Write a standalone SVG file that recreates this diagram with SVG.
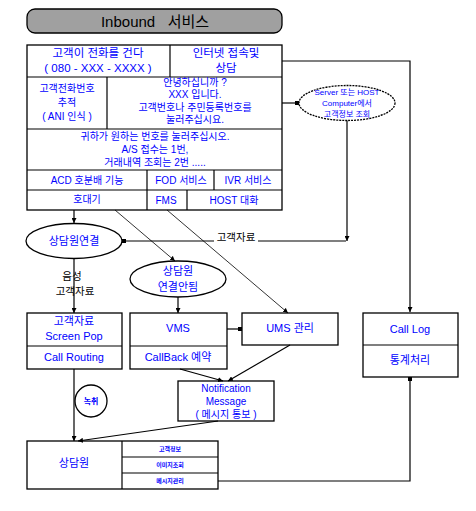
<svg xmlns="http://www.w3.org/2000/svg" width="476" height="511" viewBox="0 0 476 511">
<style>
.b{fill:#fff;stroke:#000;stroke-width:1.3}
.l{fill:none;stroke:#000;stroke-width:1.2}
.d{fill:none;stroke:#000;stroke-width:0.8}
text{font-family:"Liberation Sans","Noto Sans CJK KR",sans-serif;text-anchor:middle;dominant-baseline:central}
.t{fill:#0000ff;font-size:11px}
.m{fill:#0000ff;font-size:10px}
.s{fill:#0000ff;font-size:8px}
.k{fill:#000;font-size:10.5px}
.x{fill:#0000ff;font-size:6px;font-weight:bold}
</style>
<defs>
<marker id="a" viewBox="0 0 6 6" refX="6" refY="3" markerWidth="5" markerHeight="5" orient="auto" markerUnits="userSpaceOnUse"><path d="M0,0L6,3L0,6z" fill="#000"/></marker>
<marker id="q" viewBox="0 0 4 4" refX="4" refY="2" markerWidth="4" markerHeight="4" orient="auto" markerUnits="userSpaceOnUse"><rect width="4" height="4" fill="#000"/></marker>
</defs>
<g id="title">
<rect x="27" y="9" width="255" height="24" rx="8" fill="#a0a0a0" stroke="#000" stroke-width="1.3"/>
<text x="155" y="21" style="font-size:15px;fill:#000">Inbound&#160;&#160;&#160;서비스</text>
</g>
<g id="ivr-table">
<rect class="b" x="27" y="45" width="255" height="165"/>
<path class="l" d="M27,77H282M170,45V77M27,129H282M107,77V129M27,170H282M27,190H282M147,170V210M214,170V190M187,190V210"/>
<text class="t" x="98" y="53" style="font-size:11.5px">고객이 전화를 건다</text>
<text class="t" x="98" y="68" style="font-size:11.5px">( 080 - XXX - XXXX )</text>
<text class="t" x="226" y="53" style="font-size:11.5px">인터넷 접속및</text>
<text class="t" x="226" y="68" style="font-size:11.5px">상담</text>
<text class="m" x="67" y="88">고객전화번호</text>
<text class="m" x="67" y="102">추적</text>
<text class="m" x="67" y="116">( ANI 인식 )</text>
<text class="m" x="195" y="82">안녕하십니까 ?</text>
<text class="m" x="195" y="94.5">XXX 입니다.</text>
<text class="m" x="195" y="107">고객번호나  주민등록번호를</text>
<text class="m" x="195" y="119.5">눌러주십시요.</text>
<text class="m" x="155" y="136">귀하가 원하는 번호를 눌러주십시오.</text>
<text class="m" x="155" y="149">A/S 접수는  1번,</text>
<text class="m" x="155" y="162">거래내역 조회는 2번  .....</text>
<text class="m" x="87" y="180">ACD 호분배 기능</text>
<text class="m" x="181" y="180">FOD  서비스</text>
<text class="m" x="248" y="180">IVR  서비스</text>
<text class="m" x="87" y="199">호대기</text>
<text class="m" x="166" y="200">FMS</text>
<text class="m" x="234" y="200">HOST  대화</text>
</g>
<g id="server-lookup">
<ellipse class="b" cx="347" cy="103" rx="48" ry="17.5" style="stroke-dasharray:2 1"/>
<text class="s" x="347" y="92">Server 또는 HOST</text>
<text class="s" x="347" y="103">Computer에서</text>
<text class="s" x="347" y="114">고객정보  조회</text>
</g>
<g id="agent-connect">
<ellipse class="b" cx="74" cy="241" rx="48" ry="17.5"/>
<text class="t" x="74" y="241">상담원연결</text>
</g>
<g id="agent-not-connected">
<ellipse class="b" cx="178" cy="279" rx="48" ry="18"/>
<text class="t" x="178" y="271">상담원</text>
<text class="t" x="178" y="287">연결안됨</text>
</g>
<g id="screen-pop">
<rect class="b" x="27" y="313" width="95" height="56"/>
<path class="l" d="M27,346H122"/>
<text class="t" x="74" y="321">고객자료</text>
<text class="t" x="74" y="336">Screen Pop</text>
<text class="t" x="74" y="357">Call Routing</text>
</g>
<g id="vms">
<rect class="b" x="130" y="313" width="97" height="56"/>
<path class="l" d="M130,346H227"/>
<text class="t" x="178" y="328">VMS</text>
<text class="t" x="178" y="357">CallBack  예약</text>
</g>
<g id="ums">
<rect class="b" x="242" y="313" width="96" height="32"/>
<text class="t" x="290" y="328">UMS  관리</text>
</g>
<g id="call-log">
<rect class="b" x="363" y="313" width="95" height="64"/>
<path class="l" d="M363,345H458"/>
<text class="t" x="410" y="329">Call Log</text>
<text class="t" x="410" y="360">통계처리</text>
</g>
<g id="notification">
<rect class="b" x="178" y="381" width="96" height="40"/>
<text class="m" x="226" y="388">Notification</text>
<text class="m" x="226" y="401">Message</text>
<text class="m" x="226" y="414">( 메시지 통보 )</text>
</g>
<g id="recording">
<circle class="b" cx="91" cy="401" r="16"/>
<text class="x" x="91" y="401" style="font-size:8px">녹취</text>
</g>
<g id="agent">
<rect class="b" x="27" y="441" width="191" height="48"/>
<path class="l" d="M122,441V489M122,457H218M122,473H218"/>
<text class="t" x="74" y="463">상담원</text>
<text class="x" x="170" y="449">고객정보</text>
<text class="x" x="170" y="465">이미지조회</text>
<text class="x" x="170" y="481">메시지관리</text>
</g>
<g id="connectors">
<path class="l" d="M282,61H410V312" marker-end="url(#a)"/>
<path class="l" d="M282,103H299" marker-end="url(#q)"/>
<path class="l" d="M347,120.5V241" marker-end="url(#a)"/>
<path class="l" d="M346,241H258"/>
<path class="l" d="M214,241H122" marker-end="url(#q)"/>
<text class="k" x="236" y="237">고객자료</text>
<path class="l" d="M74,210V223" marker-end="url(#a)"/>
<path class="d" d="M115,210L175,261" marker-end="url(#a)"/>
<path class="d" d="M167,210L288,313" marker-end="url(#a)"/>
<path class="l" d="M74,258.5V313" marker-end="url(#a)"/>
<text class="k" x="72" y="276">음성</text>
<text class="k" x="75" y="291">고객자료</text>
<path class="l" d="M178,297V313" marker-end="url(#a)"/>
<path class="l" d="M227,329H242" marker-end="url(#q)"/>
<path class="l" d="M180,369L223,381" marker-end="url(#a)"/>
<path class="l" d="M290,345L228,381" marker-end="url(#a)"/>
<path class="l" d="M218,421L78,441" marker-end="url(#a)"/>
<path class="l" d="M74,369V441" marker-end="url(#a)"/>
<path class="l" d="M218,481H410V377" marker-end="url(#q)"/>
</g>
</svg>
